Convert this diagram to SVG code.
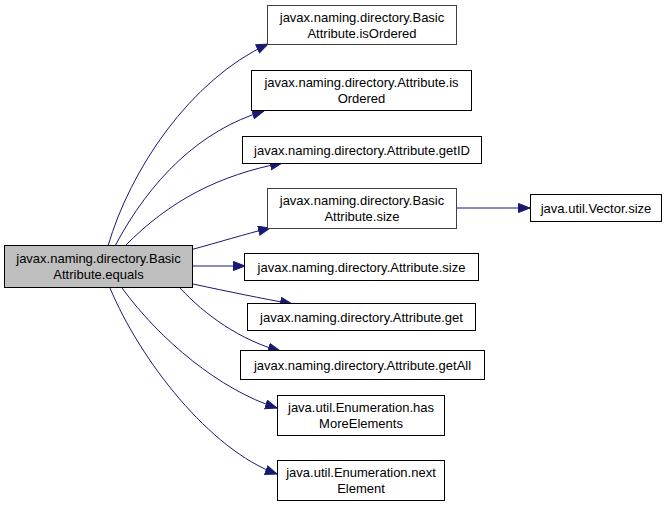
<svg xmlns="http://www.w3.org/2000/svg" width="671" height="519" viewBox="0 0 671 519">
<style>
.n rect{fill:#fff;stroke:#000;stroke-width:1}
.n.g rect{stroke:#404040}
.n.main rect{fill:#bfbfbf}
.n text{font-family:"Liberation Sans",Arial,sans-serif;font-size:13px;text-anchor:middle;fill:#000}
.e path{fill:none;stroke:#191970;stroke-width:1;marker-end:url(#ah)}
</style>
<defs>
<marker id="ah" markerUnits="userSpaceOnUse" markerWidth="13" markerHeight="11" refX="12" refY="5" orient="auto">
<polygon points="0.5,0.5 12,5 0.5,9.5" fill="#191970" stroke="#191970" stroke-width="1"/>
</marker>
</defs>
<rect width="671" height="519" fill="#fff"/>
<g id="edges" class="e">
<path d="M108,246 C130,170 190,80 268,44"/>
<path d="M115,246 C150,180 200,130 264,111"/>
<path d="M125,246 C170,200 220,175 282,163"/>
<path d="M190,250 C220,242 245,234 270,228"/>
<path d="M193,266 L245,266"/>
<path d="M193,284 C230,292 260,298 292,304"/>
<path d="M180,288 C205,315 240,340 280,351"/>
<path d="M122,288 C160,340 220,390 277,408"/>
<path d="M110,288 C140,360 210,450 277,474"/>
<path d="M456,208 L530,208"/>
</g>
<g id="main" class="n main"><rect x="4.5" y="245.5" width="188" height="42"/><text x="98.5" y="263">javax.naming.directory.Basic</text><text x="98.5" y="279">Attribute.equals</text></g>
<g id="n1" class="n g"><rect x="267.5" y="5.5" width="189" height="39"/><text x="362" y="22">javax.naming.directory.Basic</text><text x="362" y="38">Attribute.isOrdered</text></g>
<g id="n2" class="n"><rect x="251.5" y="70.5" width="220" height="40"/><text x="361.5" y="87">javax.naming.directory.Attribute.is</text><text x="361.5" y="103">Ordered</text></g>
<g id="n3" class="n"><rect x="242.5" y="136.5" width="239" height="27"/><text x="362" y="155">javax.naming.directory.Attribute.getID</text></g>
<g id="n4" class="n g"><rect x="267.5" y="188.5" width="189" height="40"/><text x="362" y="205">javax.naming.directory.Basic</text><text x="362" y="221">Attribute.size</text></g>
<g id="n10" class="n"><rect x="530.5" y="194.5" width="131" height="27"/><text x="596" y="213">java.util.Vector.size</text></g>
<g id="n5" class="n"><rect x="244.5" y="253.5" width="234" height="27"/><text x="361.5" y="272">javax.naming.directory.Attribute.size</text></g>
<g id="n6" class="n"><rect x="247.5" y="303.5" width="228" height="27"/><text x="361.5" y="322">javax.naming.directory.Attribute.get</text></g>
<g id="n7" class="n"><rect x="240.5" y="350.5" width="244" height="29"/><text x="362.5" y="370">javax.naming.directory.Attribute.getAll</text></g>
<g id="n8" class="n"><rect x="277.5" y="395.5" width="167" height="40"/><text x="361" y="412">java.util.Enumeration.has</text><text x="361" y="428">MoreElements</text></g>
<g id="n9" class="n"><rect x="277.5" y="460.5" width="167" height="40"/><text x="361" y="477">java.util.Enumeration.next</text><text x="361" y="493">Element</text></g>
</svg>
